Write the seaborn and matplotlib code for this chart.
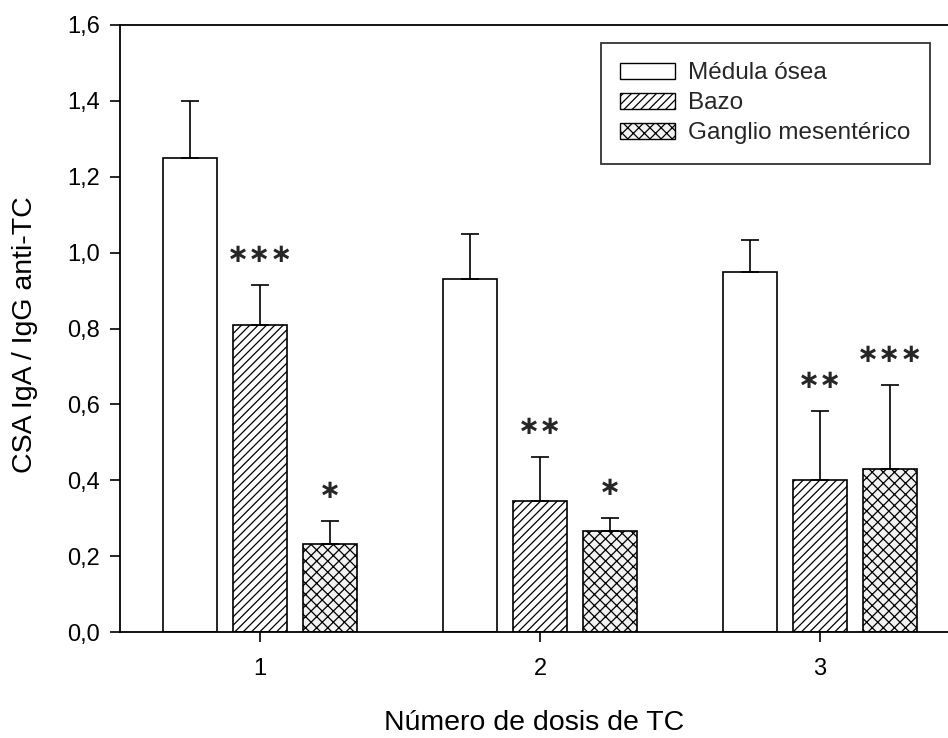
import matplotlib
matplotlib.use("Agg")
import matplotlib.pyplot as plt
import seaborn as sns
import pandas as pd
import numpy as np
from matplotlib.patches import Patch

# ---- data ----
doses = ["1", "2", "3"]
tissues = ["Médula ósea", "Bazo", "Ganglio mesentérico"]
medula = [1.25, 0.93, 0.95]
bazo = [0.81, 0.346, 0.40]
ganglio = [0.232, 0.266, 0.43]
err_medula = [0.15, 0.12, 0.082]
err_bazo = [0.105, 0.116, 0.183]
err_ganglio = [0.061, 0.034, 0.222]
stars_bazo = ["***", "**", "**"]
stars_ganglio = ["*", "*", "***"]
ytick_vals = [0.0, 0.2, 0.4, 0.6, 0.8, 1.0, 1.2, 1.4, 1.6]
ytick_labels = ["0,0", "0,2", "0,4", "0,6", "0,8", "1,0", "1,2", "1,4", "1,6"]

values = {"Médula ósea": medula, "Bazo": bazo, "Ganglio mesentérico": ganglio}
errors = {"Médula ósea": err_medula, "Bazo": err_bazo, "Ganglio mesentérico": err_ganglio}
stars = {"Bazo": stars_bazo, "Ganglio mesentérico": stars_ganglio}

rows = []
for t in tissues:
    for d, v in zip(doses, values[t]):
        rows.append({"dosis": d, "tejido": t, "valor": v})
df = pd.DataFrame(rows)

sns.set_theme(style="white")
plt.rcParams["font.family"] = ["Liberation Sans", "DejaVu Sans"]
plt.rcParams["hatch.linewidth"] = 0.9

fig = plt.figure(figsize=(9.48, 7.38), dpi=100)
ax = fig.add_axes([120 / 948, 1 - 632 / 738, 828 / 948, (632 - 25) / 738])

sns.barplot(data=df, x="dosis", y="valor", hue="tejido", order=doses,
            hue_order=tissues, errorbar=None, width=0.75, gap=0.23,
            ax=ax, legend=False)

styles = {
    "Médula ósea": dict(facecolor="white", hatch=None),
    "Bazo": dict(facecolor="white", hatch="////"),
    "Ganglio mesentérico": dict(facecolor="#f2f2f2", hatch="xxx"),
}
bars = [p for p in ax.patches]
for i, t in enumerate(tissues):
    for j in range(len(doses)):
        p = bars[i * len(doses) + j]
        p.set_facecolor(styles[t]["facecolor"])
        p.set_edgecolor("black")
        p.set_linewidth(1.2)
        if styles[t]["hatch"]:
            p.set_hatch(styles[t]["hatch"])
        cx = p.get_x() + p.get_width() / 2
        top = p.get_height()
        e = errors[t][j]
        ax.errorbar([cx], [top], yerr=[[0], [e]], fmt="none", ecolor="black",
                    elinewidth=1.2, capsize=6.5, capthick=1.2, zorder=1)
        if t in stars:
            ax.text(cx, top + e + 0.079, "∗" * len(stars[t][j]), ha="center",
                    va="center", fontsize=19, fontweight="bold",
                    family=["DejaVu Sans"])

ax.set_xlim(-0.5, -0.5 + 828 / 280)
ax.set_ylim(0, 1.6)
ax.set_yticks(ytick_vals)
ax.set_yticklabels(ytick_labels)
ax.tick_params(axis="both", which="major", direction="out", length=7.5, width=1.2,
               labelsize=17, color="black", labelcolor="black", bottom=True, left=True)
ax.tick_params(axis="x", pad=11)
ax.tick_params(axis="y", pad=7)
for s in ["left", "top", "bottom"]:
    ax.spines[s].set_color("black")
    ax.spines[s].set_linewidth(1.3)
ax.spines["right"].set_visible(False)

ax.set_xlabel("Número de dosis de TC", fontsize=20.5, labelpad=22, color="black")
ax.set_ylabel("CSA IgA / IgG anti-TC", fontsize=20.5, color="black")
ax.yaxis.set_label_coords(-0.099, 0.49)

handles = [Patch(facecolor=styles[t]["facecolor"], edgecolor="black",
                 hatch=styles[t]["hatch"], linewidth=1.0, label=t) for t in tissues]
leg = ax.legend(handles=handles, loc="upper right",
                bbox_to_anchor=((930 - 120) / 828, (632 - 43) / 607),
                fontsize=17.5, frameon=True, fancybox=False, edgecolor="black",
                handlelength=2.25, handleheight=0.62, handletextpad=0.55,
                labelspacing=0.33, borderpad=0.8, borderaxespad=0)
leg.get_frame().set_linewidth(1.3)

fig.savefig("out.png", dpi=100)
